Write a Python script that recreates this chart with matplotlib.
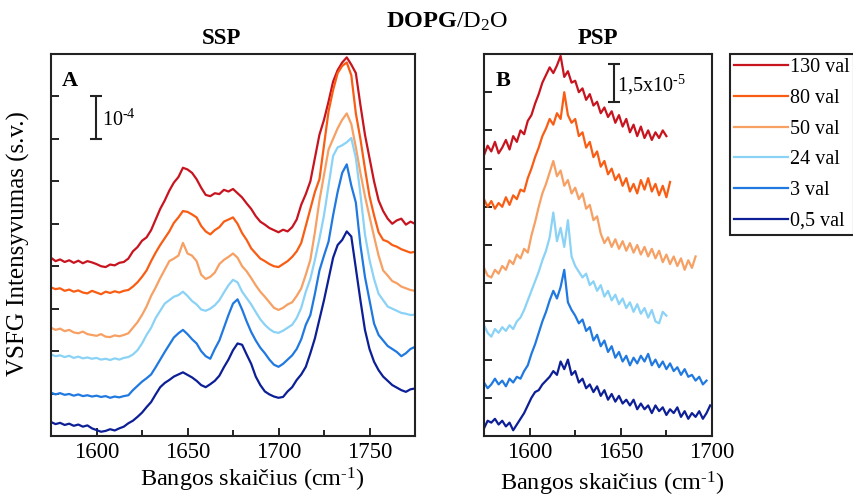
import numpy as np
import matplotlib
matplotlib.use("Agg")
import matplotlib.pyplot as plt
from matplotlib.ticker import MultipleLocator
from matplotlib.lines import Line2D

plt.rcParams['font.family'] = ['Liberation Serif', 'DejaVu Serif']
plt.rcParams['mathtext.fontset'] = 'custom'
plt.rcParams['mathtext.rm'] = 'Liberation Serif'
plt.rcParams['mathtext.it'] = 'Liberation Serif:italic'
plt.rcParams['mathtext.bf'] = 'Liberation Serif:bold'

# concentrations, top to bottom
labels = ['130 val', '80 val', '50 val', '24 val', '3 val', '0,5 val']
colors = ['#c8141e', '#f95d14', '#f6a064', '#8ad2f6', '#2079e0', '#0c1f96']

# SSP spectra (offset, units of 1e-4), every 2.5 cm-1 from 1575 to 1775
ssp_x = np.arange(1575, 1775.1, 2.5)
ssp_130 = [4.20, 4.12, 4.16, 4.10, 4.14, 4.08, 4.13, 4.07, 4.12, 4.09, 4.05, 4.00, 3.98, 4.04, 4.02, 4.08,
           4.10, 4.18, 4.35, 4.45, 4.60, 4.68, 4.85, 5.10, 5.35, 5.55, 5.78, 5.97, 6.10, 6.32, 6.28, 6.20,
           6.05, 5.85, 5.68, 5.65, 5.72, 5.70, 5.80, 5.76, 5.82, 5.72, 5.62, 5.48, 5.35, 5.18, 5.05, 4.98,
           4.90, 4.85, 4.80, 4.86, 4.82, 4.92, 5.10, 5.45, 5.70, 6.00, 6.55, 7.10, 7.45, 7.88, 8.35, 8.62,
           8.80, 8.92, 8.75, 8.55, 7.80, 7.10, 6.55, 6.00, 5.55, 5.30, 5.12, 5.00, 5.08, 5.12, 4.98, 5.05,
           5.00]
ssp_80 = [3.50, 3.46, 3.48, 3.42, 3.45, 3.40, 3.43, 3.38, 3.36, 3.42, 3.38, 3.34, 3.40, 3.37, 3.41, 3.38,
          3.42, 3.44, 3.52, 3.62, 3.75, 3.90, 4.12, 4.32, 4.50, 4.66, 4.82, 5.02, 5.15, 5.30, 5.28, 5.22,
          5.15, 4.95, 4.82, 4.75, 4.85, 4.92, 5.05, 5.10, 5.15, 5.00, 4.78, 4.62, 4.42, 4.30, 4.18, 4.12,
          4.05, 4.00, 3.98, 4.05, 4.12, 4.22, 4.35, 4.55, 4.95, 5.35, 5.75, 6.05, 6.85, 7.65, 8.15, 8.55,
          8.72, 8.80, 8.50, 7.60, 7.00, 6.30, 5.65, 5.20, 4.80, 4.62, 4.58, 4.50, 4.46, 4.40, 4.36, 4.32,
          4.34]
ssp_50 = [2.55, 2.50, 2.53, 2.47, 2.50, 2.44, 2.42, 2.46, 2.40, 2.38, 2.36, 2.40, 2.34, 2.33, 2.37, 2.35,
          2.38, 2.42, 2.55, 2.68, 2.85, 3.05, 3.30, 3.50, 3.72, 3.92, 4.12, 4.18, 4.25, 4.55, 4.30, 4.25,
          4.12, 3.80, 3.70, 3.75, 3.85, 4.05, 4.15, 4.22, 4.30, 4.20, 4.00, 3.88, 3.72, 3.55, 3.40, 3.28,
          3.15, 3.02, 2.97, 3.02, 3.10, 3.15, 3.30, 3.48, 3.80, 4.15, 4.80, 5.55, 6.15, 6.75, 7.00, 7.25,
          7.45, 7.60, 7.35, 6.80, 6.20, 5.65, 5.17, 4.70, 4.25, 3.90, 3.78, 3.65, 3.60, 3.52, 3.48, 3.44,
          3.42]
ssp_24 = [1.92, 1.88, 1.90, 1.86, 1.89, 1.84, 1.87, 1.83, 1.85, 1.82, 1.84, 1.80, 1.82, 1.79, 1.83, 1.80,
          1.84, 1.86, 1.92, 2.02, 2.18, 2.38, 2.55, 2.78, 2.95, 3.12, 3.20, 3.28, 3.32, 3.40, 3.30, 3.18,
          3.10, 2.98, 2.95, 3.00, 3.08, 3.20, 3.38, 3.55, 3.68, 3.62, 3.40, 3.25, 3.10, 2.92, 2.75, 2.62,
          2.52, 2.45, 2.43, 2.48, 2.55, 2.62, 2.78, 3.02, 3.40, 3.70, 4.15, 4.65, 5.20, 5.90, 6.60, 6.80,
          6.85, 6.92, 7.02, 6.55, 5.70, 4.75, 4.15, 3.70, 3.35, 3.20, 3.05, 3.00, 2.95, 2.90, 2.88, 2.85,
          2.86]
ssp_3 = [1.02, 0.98, 1.01, 0.97, 0.99, 0.95, 0.98, 0.94, 0.96, 0.93, 0.95, 0.92, 0.94, 0.90, 0.93, 0.91,
         0.94, 0.96, 1.08, 1.18, 1.28, 1.36, 1.45, 1.62, 1.80, 1.98, 2.15, 2.32, 2.42, 2.50, 2.40, 2.28,
         2.18, 2.00, 1.88, 1.82, 2.05, 2.25, 2.55, 2.85, 3.12, 3.22, 2.98, 2.70, 2.45, 2.25, 2.08, 1.95,
         1.80, 1.68, 1.63, 1.70, 1.80, 1.90, 2.05, 2.28, 2.62, 2.85, 3.35, 3.90, 4.25, 4.58, 5.20, 5.75,
         6.20, 6.40, 5.90, 5.50, 4.50, 3.75, 3.20, 2.65, 2.38, 2.25, 2.12, 2.05, 1.98, 1.88, 1.95, 2.05,
         2.10]
ssp_05 = [0.33, 0.28, 0.31, 0.26, 0.29, 0.24, 0.27, 0.22, 0.25, 0.18, 0.14, 0.10, 0.12, 0.16, 0.13, 0.18,
          0.22, 0.30, 0.36, 0.45, 0.55, 0.68, 0.80, 0.98, 1.15, 1.25, 1.32, 1.40, 1.45, 1.50, 1.44, 1.38,
          1.30, 1.20, 1.15, 1.22, 1.30, 1.42, 1.62, 1.80, 2.02, 2.18, 2.15, 1.92, 1.70, 1.40, 1.20, 1.05,
          0.98, 0.93, 0.90, 0.92, 1.05, 1.15, 1.32, 1.45, 1.63, 1.95, 2.30, 2.75, 3.20, 3.70, 4.20, 4.50,
          4.62, 4.82, 4.70, 3.95, 3.20, 2.50, 2.05, 1.75, 1.55, 1.40, 1.30, 1.20, 1.14, 1.08, 1.04, 1.10,
          1.12]

# PSP spectra (offset, units of 1.5e-5), every 2 cm-1 from 1575
psp_x = np.arange(1575, 1700, 2)
psp_130 = [7.35, 7.60, 7.45, 7.70, 7.40, 7.55, 7.75, 7.50, 7.85, 7.70, 8.00, 7.90, 8.25, 8.40, 8.70, 8.95,
           9.25, 9.45, 9.65, 9.50, 9.70, 9.95, 9.40, 9.55, 9.25, 9.30, 9.00, 9.10, 8.80, 8.95, 8.65, 8.75,
           8.45, 8.60, 8.35, 8.50, 8.20, 8.40, 8.10, 8.30, 7.95, 8.15, 7.85, 8.10, 7.80, 8.00, 7.75, 7.95,
           7.80, 8.00, 7.85]
psp_80 = [6.20, 6.00, 6.15, 5.95, 6.10, 6.00, 6.25, 6.05, 6.30, 6.20, 6.45, 6.40, 6.75, 7.00, 7.30, 7.55,
          7.85, 8.05, 8.30, 8.15, 8.45, 8.30, 9.00, 8.40, 8.20, 8.30, 7.85, 7.95, 7.55, 7.70, 7.30, 7.45,
          7.05, 7.20, 6.85, 7.00, 6.70, 6.85, 6.55, 6.75, 6.40, 6.60, 6.35, 6.70, 6.45, 6.75, 6.40, 6.60,
          6.30, 6.55, 6.25, 6.65]
psp_50 = [4.40, 4.20, 4.15, 4.35, 4.25, 4.45, 4.35, 4.60, 4.50, 4.75, 4.65, 4.90, 4.80, 5.25, 5.60, 6.00,
          6.35, 6.60, 6.90, 7.20, 6.80, 6.95, 6.55, 6.70, 6.35, 6.50, 6.20, 6.35, 5.95, 6.05, 5.65, 5.75,
          5.30, 5.05, 5.20, 4.95, 5.15, 4.90, 5.10, 4.85, 5.05, 4.80, 5.00, 4.75, 4.95, 4.70, 4.90, 4.65,
          4.85, 4.55, 4.75, 4.50, 4.70, 4.45, 4.65, 4.35, 4.60, 4.40, 4.70]
psp_24 = [2.90, 2.70, 2.60, 2.80, 2.70, 2.85, 2.75, 2.90, 2.80, 3.00, 3.10, 3.30, 3.55, 3.80, 4.05, 4.30,
          4.60, 4.85, 5.20, 5.85, 5.10, 5.45, 4.95, 5.65, 4.70, 4.45, 4.30, 4.15, 4.25, 3.95, 4.05, 3.80,
          3.95, 3.65, 3.80, 3.55, 3.70, 3.45, 3.60, 3.35, 3.50, 3.25, 3.45, 3.20, 3.35, 3.10, 3.30, 3.00,
          2.95, 3.25, 3.15]
psp_3 = [1.40, 1.25, 1.35, 1.50, 1.35, 1.45, 1.30, 1.50, 1.40, 1.55, 1.50, 1.70, 1.85, 2.15, 2.40, 2.70,
         3.00, 3.25, 3.55, 3.80, 3.60, 3.90, 4.35, 3.50, 3.30, 3.15, 2.95, 3.05, 2.75, 2.85, 2.50, 2.65,
         2.35, 2.50, 2.20, 2.35, 2.05, 2.20, 1.95, 2.10, 1.85, 2.05, 1.90, 2.10, 1.95, 2.15, 1.85, 2.00,
         1.80, 1.95, 1.75, 1.90, 1.70, 1.80, 1.60, 1.75, 1.55, 1.60, 1.45, 1.55, 1.35, 1.45]
psp_05 = [0.20, 0.40, 0.35, 0.45, 0.30, 0.40, 0.25, 0.35, 0.15, 0.30, 0.45, 0.60, 0.80, 1.00, 1.15, 1.20,
          1.35, 1.45, 1.55, 1.70, 1.60, 1.95, 1.75, 2.00, 1.60, 1.70, 1.40, 1.50, 1.25, 1.35, 1.15, 1.30,
          1.05, 1.20, 0.95, 1.10, 0.90, 1.05, 0.85, 0.95, 0.80, 0.95, 0.70, 0.85, 0.70, 0.80, 0.60, 0.80,
          0.65, 0.75, 0.55, 0.70, 0.60, 0.75, 0.50, 0.65, 0.45, 0.60, 0.50, 0.65, 0.45, 0.60, 0.80]

ssp = [ssp_130, ssp_80, ssp_50, ssp_24, ssp_3, ssp_05]
psp = [psp_130, psp_80, psp_50, psp_24, psp_3, psp_05]

fig = plt.figure(figsize=(8.54, 4.97), dpi=100)
axA = fig.add_axes([51/854, 61/497, 364/854, 382/497])
axB = fig.add_axes([484/854, 61/497, 228/854, 382/497])

for y, c in zip(ssp, colors):
    axA.plot(ssp_x[:len(y)], y, color=c, lw=1.6)
for y, c in zip(psp, colors):
    axB.plot(psp_x[:len(y)], y, color=c, lw=1.6)

axA.set_xlim(1575, 1775)
axA.set_ylim(0, 9)
axA.set_xticks([1600, 1650, 1700, 1750])
axA.set_yticks(range(1, 9))
axB.set_xlim(1575, 1700)
axB.set_ylim(0, 10)
axB.set_xticks([1600, 1650, 1700])
axB.set_yticks(range(1, 10))

for ax in (axA, axB):
    ax.xaxis.set_minor_locator(MultipleLocator(25))
    ax.tick_params(which='both', direction='in', labelsize=16.5, pad=4, width=1.2)
    ax.tick_params(which='major', length=6)
    ax.tick_params(which='minor', length=4)
    ax.set_yticklabels([])
    for s in ax.spines.values():
        s.set_linewidth(1.5)
        s.set_color('#222222')

# scale bars (short hyphen in the exponents, like the original)
hy = '\u2010'
axA.errorbar([1599.5], [7.5], yerr=0.5, color='#222222', capsize=4, lw=1.5, capthick=1.5)
axA.text(1603, 7.45, '10$^{' + hy + '4}$', fontsize=14.5, va='center', ha='left')
axB.errorbar([1646], [9.25], yerr=0.5, color='#222222', capsize=4, lw=1.5, capthick=1.5)
axB.text(1648, 9.2, '1,5x10$^{' + hy + '5}$', fontsize=14.5, va='center', ha='left')

axA.text(0.03, 0.955, 'A', transform=axA.transAxes, fontsize=16, fontweight='bold', va='top')
axB.text(0.05, 0.955, 'B', transform=axB.transAxes, fontsize=16, fontweight='bold', va='top')

fig.text(447/854, 1 - 22/497, r'$\mathbf{DOPG}$/D$_2$O', fontsize=17.5, ha='center', va='center')
fig.text(222/854, 1 - 39/497, 'SSP', fontsize=16.5, fontweight='bold', ha='center', va='center')
fig.text(598/854, 1 - 39/497, 'PSP', fontsize=16.5, fontweight='bold', ha='center', va='center')
fig.text(18/854, 1 - 244/497, 'VSFG Intensyvumas (s.v.)', fontsize=18, rotation=90,
         ha='center', va='center')
fig.text(252/854, 1 - 480/497, 'Bangos skaičius (cm$^{' + hy + '1}$)', fontsize=17.5,
         ha='center', va='center')
fig.text(612/854, 1 - 484/497, 'Bangos skaičius (cm$^{' + hy + '1}$)', fontsize=17.5,
         ha='center', va='center')

handles = [Line2D([], [], color=c, lw=1.6) for c in colors]
leg = fig.legend(handles, labels, loc='upper left', bbox_to_anchor=(730/854, 1 - 54/497),
                 borderaxespad=0, fontsize=14.5, handlelength=2.7, handletextpad=0.1,
                 borderpad=0.2, labelspacing=0.58, fancybox=False, framealpha=1)
leg.get_frame().set_edgecolor('#222222')
leg.get_frame().set_linewidth(1.5)

fig.savefig('out.png', dpi=100)
